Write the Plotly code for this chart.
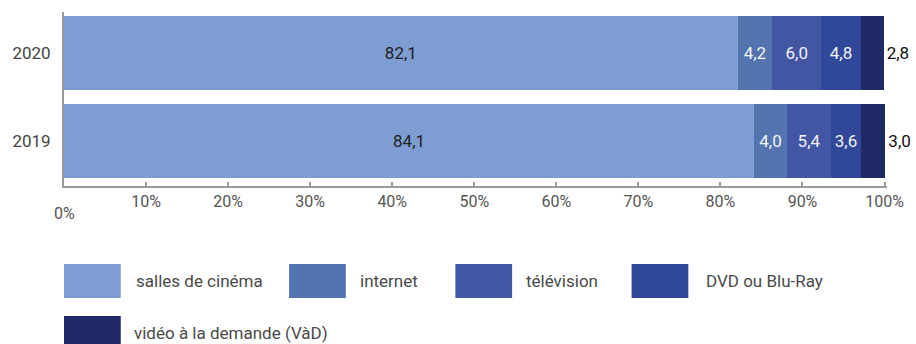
import plotly.graph_objects as go

# Répartition des entrées par mode de diffusion (%)
years = ["2019", "2020"]
series_names = ["salles de cinéma", "internet", "télévision", "DVD ou Blu-Ray", "vidéo à la demande (VàD)"]
salles = [84.1, 82.1]
internet = [4.0, 4.2]
television = [5.4, 6.0]
dvd = [3.6, 4.8]
vad = [3.0, 2.8]
series_values = [salles, internet, television, dvd, vad]

colors = ["#7E9DD3", "#5374AE", "#4256A3", "#30479A", "#1F2966"]
label_colors = ["#222222", "#F2F2F2", "#F2F2F2", "#F2F2F2", "#111111"]

tick_vals = [0, 10, 20, 30, 40, 50, 60, 70, 80, 90, 100]
tick_text = [""] + [f"{v}%" for v in tick_vals[1:]]

FONT = "Roboto"
W, H = 916, 344
X_MAX = 100.3  # a little headroom so totals rounding above 100 stay visible
L, T, B = 62, 12, 158
pw = 824 * X_MAX / 100
R = W - L - pw
ph = H - T - B


def fmt(v):
    return f"{v:.1f}".replace(".", ",")


fig = go.Figure()
for i, (name, vals) in enumerate(zip(series_names, series_values)):
    last = i == len(series_names) - 1
    fig.add_trace(go.Bar(
        y=years, x=vals, name=name, orientation="h",
        marker=dict(color=colors[i], line=dict(width=0)),
        text=[fmt(v) for v in vals],
        textposition="outside" if last else "inside",
        insidetextanchor="middle",
        textangle=0,
        cliponaxis=False,
        textfont=dict(family=FONT, size=17, color=label_colors[i]),
        outsidetextfont=dict(family=FONT, size=17, color=label_colors[i]),
        insidetextfont=dict(family=FONT, size=17, color=label_colors[i]),
        showlegend=False,
        hoverinfo="skip",
    ))


def px_x(p):
    return (p - L) / pw


def px_y(p):
    return (H - B - p) / ph


# Legend built from swatches and labels below the plot
legend_layout = [
    (62, 264, 132), (288, 264, 357), (455, 264, 524), (632, 264, 705), (62, 316, 130),
]
shapes = []
annotations = []
for (sx, sy, tx), name, col in zip(legend_layout, series_names, colors):
    shapes.append(dict(type="rect", xref="paper", yref="paper",
                       x0=px_x(sx), x1=px_x(sx + 57), y0=px_y(sy), y1=px_y(sy + 34),
                       fillcolor=col, line=dict(width=0)))
    annotations.append(dict(xref="paper", yref="paper", x=px_x(tx), y=px_y(sy + 17),
                            text=name, showarrow=False, xanchor="left", yanchor="middle",
                            font=dict(family=FONT, size=17, color="#4A4A4A")))

# "0%" sits slightly lower than the other tick labels
annotations.append(dict(xref="x", yref="paper", x=0, y=px_y(213), text="0%",
                        showarrow=False, xanchor="center", yanchor="middle",
                        font=dict(family=FONT, size=16, color="#555555")))

fig.update_layout(
    width=W, height=H,
    margin=dict(l=L, r=R, t=T, b=B),
    barmode="stack", bargap=0.16,
    plot_bgcolor="white", paper_bgcolor="white",
    font=dict(family=FONT, size=16, color="#444444"),
    shapes=shapes, annotations=annotations,
    uniformtext=dict(mode=False),
)
fig.update_xaxes(
    range=[0, X_MAX], tickvals=tick_vals, ticktext=tick_text,
    showgrid=False, zeroline=False,
    showline=True, linecolor="#9A9A9A", linewidth=2,
    ticks="inside", ticklen=4, tickwidth=2, tickcolor="#9A9A9A",
    ticklabelstandoff=0,
    tickfont=dict(family=FONT, size=16, color="#555555"),
)
fig.update_yaxes(
    type="category", categoryorder="array", categoryarray=years,
    range=[-0.511, 1.466],
    showgrid=False, zeroline=False,
    showline=True, linecolor="#9A9A9A", linewidth=2,
    ticks="", ticklabelstandoff=8,
    tickfont=dict(family=FONT, size=17, color="#444444"),
)

fig.write_html("out.html")
